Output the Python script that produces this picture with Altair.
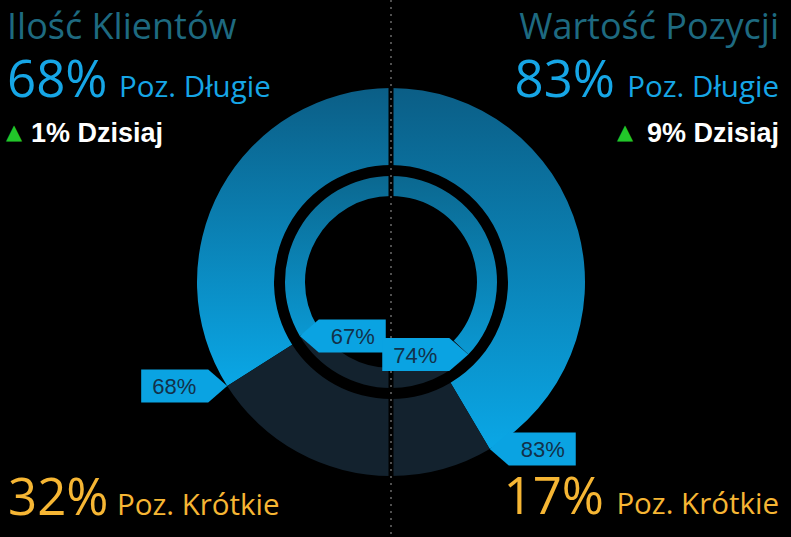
import math
import altair as alt
import pandas as pd

# ---------------- data ----------------
sides = ["left", "right"]
titles = ["Ilość Klientów", "Wartość Pozycji"]
long_pct = [68, 83]          # outer ring: share of long positions
short_pct = [32, 17]         # outer ring: share of short positions
inner_long_pct = [67, 74]    # inner ring: share of long positions
change_today = [1, 9]        # daily change (percentage points)

# ---------------- layout constants ----------------
W, H = 791, 537
CX, CY = 391, 282
R_OUT, R_OUT_IN = 194, 117
R_IN, R_IN_IN = 106, 86

BLUE_TXT = "#16a6e6"
ORANGE = "#f6b634"
TEAL = "#1e6a80"
SHORT_COL = "#13222e"
LABEL_BG = "#0aa3e2"

# arc segments (theta domain -100..100 => -pi..pi, left half mirrored)
rows = []
for i, side in enumerate(sides):
    sign = -1 if side == "left" else 1
    for ring, vals in (("outer", long_pct), ("inner", inner_long_pct)):
        v = vals[i]
        a, b = sorted([0, sign * v])
        rows.append(dict(ring=ring, side=side, cat="long", t1=a, t2=b, v=v))
        a, b = sorted([sign * v, sign * 100])
        rows.append(dict(ring=ring, side=side, cat="short", t1=a, t2=b, v=100 - v))
arcs = pd.DataFrame(rows)

theta_scale = alt.Scale(domain=[-100, 100], range=[-math.pi, math.pi])


def grad(c0, c1):
    return alt.LinearGradient(
        gradient="linear",
        stops=[alt.GradientStop(color=c0, offset=0), alt.GradientStop(color=c1, offset=1)],
        x1=0, x2=0, y1=0, y2=1,
    )


def arc_layer(ring, cat, r_out, r_in, color):
    return (
        alt.Chart(arcs)
        .transform_filter(f"datum.ring == '{ring}' && datum.cat == '{cat}'")
        .mark_arc(radius=r_out, radius2=r_in, color=color, strokeWidth=0)
        .encode(
            theta=alt.Theta("t1:Q", scale=theta_scale),
            theta2="t2:Q",
            x=alt.value(CX),
            y=alt.value(CY),
        )
    )


layers = [
    arc_layer("outer", "long", R_OUT, R_OUT_IN, grad("#0b5e86", "#0aa7e6")),
    arc_layer("outer", "short", R_OUT, R_OUT_IN, SHORT_COL),
    arc_layer("inner", "long", R_IN, R_IN_IN, grad("#0b6890", "#0a98d2")),
    arc_layer("inner", "short", R_IN, R_IN_IN, SHORT_COL),
]

# dotted divider
layers.append(
    alt.Chart(pd.DataFrame({"a": [0]}))
    .mark_rule(color="#000000", strokeWidth=5)
    .encode(x=alt.value(CX), y=alt.value(0), y2=alt.value(H))
)
layers.append(
    alt.Chart(pd.DataFrame({"a": [0]}))
    .mark_rule(color="#505050", strokeWidth=2, strokeDash=[2, 5])
    .encode(x=alt.value(CX), y=alt.value(0), y2=alt.value(H))
)

# callout labels at the long/short boundary
lab_rows = []
for i, side in enumerate(sides):
    sign = -1 if side == "left" else 1
    lab_rows.append(dict(ring="outer", t=sign * long_pct[i], v=long_pct[i],
                         dir=("L" if side == "left" else "R")))
    lab_rows.append(dict(ring="inner", t=sign * inner_long_pct[i], v=inner_long_pct[i],
                         dir=("R" if side == "left" else "L")))
labels = pd.DataFrame(lab_rows)
labels["txt"] = labels["v"].astype(str) + "%"

PATH_BODY_LEFT = "M0,0L-1.9,-1.65L-8.6,-1.65L-8.6,1.65L-1.9,1.65Z"
PATH_BODY_RIGHT = "M0,0L1.9,-1.65L8.6,-1.65L8.6,1.65L1.9,1.65Z"

lab_base = alt.Chart(labels).transform_calculate(
    ang="datum.t / 100 * PI",
    rr=f"datum.ring == 'outer' ? {R_OUT} : {R_IN}",
).transform_calculate(
    px=f"{CX} + datum.rr * sin(datum.ang)",
    py=f"{CY} - datum.rr * cos(datum.ang)",
).transform_calculate(
    tx="datum.px + (datum.dir == 'L' ? -53 : 53)",
)

layers.append(
    lab_base.mark_point(filled=True, opacity=1, size=400, color=LABEL_BG, strokeWidth=0)
    .encode(
        x=alt.X("px:Q", scale=None, axis=None),
        y=alt.Y("py:Q", scale=None, axis=None),
        shape=alt.Shape("dir:N", scale=alt.Scale(domain=["L", "R"],
                                                 range=[PATH_BODY_LEFT, PATH_BODY_RIGHT]),
                        legend=None),
    )
)
layers.append(
    lab_base.mark_text(font="Liberation Sans", fontSize=22, color="#12314a",
                       align="center", baseline="middle", dy=1)
    .encode(
        x=alt.X("tx:Q", scale=None, axis=None),
        y=alt.Y("py:Q", scale=None, axis=None),
        text="txt:N",
    )
)


# header / footer texts
def txt(s, x, y, size, color, align="left", font="Open Sans", weight="normal"):
    return (
        alt.Chart(pd.DataFrame({"t": [s]}))
        .mark_text(align=align, baseline="alphabetic", fontSize=size, font=font,
                   fontWeight=weight, color=color)
        .encode(x=alt.value(x), y=alt.value(y), text="t:N")
    )


BIG, SUB, TIT, DZ = 51, 29.5, 36, 27
layers += [
    txt(titles[0], 7, 39, TIT, TEAL),
    txt(f"{long_pct[0]}%", 7, 97, BIG, BLUE_TXT),
    txt("Poz. Długie", 119, 97, SUB, BLUE_TXT),
    txt("▲", 6, 139, 21, "#22c62a", font="DejaVu Sans"),
    txt(f"{change_today[0]}% Dzisiaj", 31, 142, DZ, "#ffffff", font="Liberation Sans", weight="bold"),
    txt(titles[1], 779, 39, TIT, TEAL, align="right"),
    txt(f"{long_pct[1]}%", 615, 97, BIG, BLUE_TXT, align="right"),
    txt("Poz. Długie", 779, 97, SUB, BLUE_TXT, align="right"),
    txt("▲", 617, 139, 21, "#22c62a", font="DejaVu Sans"),
    txt(f"{change_today[1]}% Dzisiaj", 779, 142, DZ, "#ffffff", align="right",
        font="Liberation Sans", weight="bold"),
    txt(f"{short_pct[0]}%", 8, 515, BIG, ORANGE),
    txt("Poz. Krótkie", 117, 515, SUB, ORANGE),
    txt(f"{short_pct[1]}%", 604, 514, BIG, ORANGE, align="right"),
    txt("Poz. Krótkie", 779, 514, SUB, ORANGE, align="right"),
]

chart = (
    alt.layer(*layers)
    .properties(width=W, height=H, background="#000000", padding=0,
                autosize=alt.AutoSizeParams(type="none"))
    .configure_view(stroke=None)
)

chart.save("out.html", embed_options={"renderer": "svg", "actions": False})
